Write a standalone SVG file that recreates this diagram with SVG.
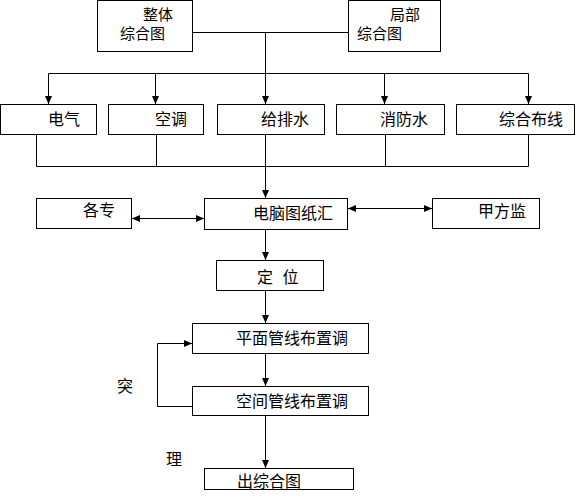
<svg xmlns="http://www.w3.org/2000/svg" width="576" height="500" viewBox="0 0 576 500">
<defs>
<style>
.box{fill:#fff;stroke:#000;stroke-width:1}
.t{font-family:"Noto Sans CJK SC","Liberation Sans",sans-serif;font-size:16px;fill:#000}
.t15{font-size:15px}
.ln{fill:none;stroke:#000;stroke-width:1}
.ar{fill:none;stroke:#000;stroke-width:1;marker-end:url(#ah)}
.da{fill:none;stroke:#000;stroke-width:1;marker-end:url(#ah);marker-start:url(#ahs)}
</style>
<marker id="ah" viewBox="0 0 8 8" refX="8" refY="4" markerWidth="8" markerHeight="8" markerUnits="userSpaceOnUse" orient="auto">
<path d="M0,0.5 L8,4 L0,7.5 Z" fill="#000"/>
</marker>
<marker id="ahs" viewBox="0 0 8 8" refX="0" refY="4" markerWidth="8" markerHeight="8" markerUnits="userSpaceOnUse" orient="auto">
<path d="M8,0.5 L0,4 L8,7.5 Z" fill="#000"/>
</marker>
</defs>
<rect width="576" height="500" fill="#fff"/>
<g id="connectors">
<path class="ln" d="M192,32.5 H348 M265.5,32.5 V73.5 M48.5,73.5 H528.5"/>
<path class="ar" d="M48.5,73.5 V104"/>
<path class="ar" d="M155.5,73.5 V104"/>
<path class="ar" d="M265.5,73.5 V104"/>
<path class="ar" d="M384.5,73.5 V104"/>
<path class="ar" d="M528.5,73.5 V104"/>
<path class="ln" d="M36.5,135 V166.5 H528.5 M156.5,135 V166.5 M265.5,135 V166.5 M385.5,135 V166.5 M528.5,135 V166.5"/>
<path class="ar" d="M265.5,166.5 V198"/>
<path class="da" d="M132,218.5 H204"/>
<path class="da" d="M348,208.5 H432"/>
<path class="ar" d="M265.5,229 V260"/>
<path class="ar" d="M265.5,291 V323"/>
<path class="ar" d="M265.5,354 V386"/>
<path class="ar" d="M265.5,416 V468"/>
<path class="ar" d="M192,406.5 H157.5 V343.5 H192"/>
</g>
<g id="n-whole"><rect class="box" x="97.5" y="0.5" width="95" height="51"/><text class="t t15"><tspan x="143" y="20">整体</tspan><tspan x="120" y="39">综合图</tspan></text></g>
<g id="n-local"><rect class="box" x="348.5" y="0.5" width="92" height="51"/><text class="t t15"><tspan x="390" y="20">局部</tspan><tspan x="357" y="39">综合图</tspan></text></g>
<g id="n-elec"><rect class="box" x="0.5" y="104.5" width="96" height="30"/><text class="t" x="48" y="125">电气</text></g>
<g id="n-hvac"><rect class="box" x="108.5" y="104.5" width="95" height="30"/><text class="t" x="155" y="125">空调</text></g>
<g id="n-water"><rect class="box" x="217.5" y="104.5" width="107" height="30"/><text class="t" x="261" y="125">给排水</text></g>
<g id="n-fire"><rect class="box" x="336.5" y="104.5" width="108" height="30"/><text class="t" x="380" y="125">消防水</text></g>
<g id="n-cable"><rect class="box" x="456.5" y="104.5" width="118" height="30"/><text class="t" x="499" y="125">综合布线</text></g>
<g id="n-each"><rect class="box" x="36.5" y="198.5" width="95" height="30"/><text class="t" x="83" y="216">各专</text></g>
<g id="n-pc"><rect class="box" x="204.5" y="198.5" width="143" height="31"/><text class="t" x="253" y="219">电脑图纸汇</text></g>
<g id="n-owner"><rect class="box" x="432.5" y="198.5" width="107" height="30"/><text class="t" x="478" y="217">甲方监</text></g>
<g id="n-locate"><rect class="box" x="216.5" y="260.5" width="107" height="30"/><text class="t" x="257" y="283" style="word-spacing:6px">定 位</text></g>
<g id="n-plane"><rect class="box" x="192.5" y="323.5" width="176" height="30"/><text class="t" x="236" y="344">平面管线布置调</text></g>
<g id="n-space"><rect class="box" x="192.5" y="386.5" width="176" height="29"/><text class="t" x="236" y="407">空间管线布置调</text></g>
<g id="n-out"><rect class="box" x="204.5" y="468.5" width="149" height="21"/><text class="t" x="237" y="487">出综合图</text></g>
<text class="t" x="117" y="392">突</text>
<text class="t" x="166" y="465">理</text>
</svg>
